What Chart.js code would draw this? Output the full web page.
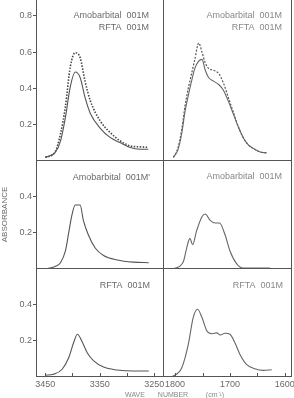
<!DOCTYPE html>
<html>
<head>
<meta charset="utf-8">
<script src="https://cdn.jsdelivr.net/npm/chart.js@4.4.1/dist/chart.umd.min.js"></script>
<style>
  body { margin: 0; background: #fff; }
  #wrap { position: relative; width: 294px; height: 398px; overflow: hidden; background: #fff; }
  canvas { position: absolute; }
</style>
</head>
<body>
<div id="wrap">
  <canvas id="c1" width="164" height="161" style="left:0;top:0"></canvas>
  <canvas id="c2" width="131" height="161" style="left:163px;top:0"></canvas>
  <canvas id="c3" width="164" height="109" style="left:0;top:160px"></canvas>
  <canvas id="c4" width="131" height="109" style="left:163px;top:160px"></canvas>
  <canvas id="c5" width="164" height="130" style="left:0;top:268px"></canvas>
  <canvas id="c6" width="194" height="130" style="left:100px;top:268px"></canvas>
</div>
<script>
// axis ticks
var nhTicks = [3450, 3400, 3350, 3300, 3250];
var nhTickLabels = [3450, 3350, 3250];
var coTicks = [1800, 1750, 1700, 1650, 1600];
var coTickLabels = [1800, 1700, 1600];
var topYTicks = [0.2, 0.4, 0.6, 0.8];
var lowYTicks = [0.2, 0.4];

// top row: both compounds together (solid + dotted)
var nhWaveMix = [3450, 3432, 3422, 3413, 3404, 3395, 3386, 3377, 3367, 3349, 3331, 3312, 3294, 3276, 3261];
var nhMixSolid = [0.02, 0.046, 0.11, 0.24, 0.41, 0.49, 0.46, 0.35, 0.26, 0.18, 0.13, 0.10, 0.074, 0.065, 0.065];
var nhMixDotted = [0.02, 0.05, 0.15, 0.30, 0.52, 0.596, 0.57, 0.44, 0.33, 0.22, 0.157, 0.11, 0.083, 0.078, 0.075];

var coWaveMix = [1803, 1795, 1788, 1782, 1776, 1770, 1764, 1757, 1751, 1745, 1739, 1730, 1720, 1712, 1703, 1694, 1685, 1676, 1667, 1655, 1645, 1633];
var coMixDotted = [0.02, 0.07, 0.17, 0.30, 0.40, 0.48, 0.56, 0.65, 0.60, 0.54, 0.51, 0.50, 0.48, 0.43, 0.35, 0.27, 0.19, 0.13, 0.09, 0.065, 0.05, 0.045];
var coMixSolid = [0.02, 0.06, 0.15, 0.27, 0.36, 0.44, 0.51, 0.55, 0.56, 0.50, 0.46, 0.44, 0.42, 0.39, 0.33, 0.26, 0.19, 0.13, 0.09, 0.065, 0.05, 0.045];

// middle row: amobarbital alone
var nhWaveAmo = [3450, 3432, 3422, 3413, 3407, 3401, 3395, 3386, 3380, 3371, 3358, 3343, 3318, 3288, 3260];
var nhAmo = [0.0, 0.014, 0.035, 0.10, 0.20, 0.30, 0.355, 0.355, 0.27, 0.19, 0.115, 0.075, 0.05, 0.038, 0.035];
var coWaveAmo = [1803, 1785, 1779, 1773, 1768, 1761, 1751, 1745, 1736, 1727, 1719, 1709, 1700, 1688, 1676, 1655, 1627];
var coAmo = [0.0, 0.04, 0.115, 0.17, 0.135, 0.21, 0.29, 0.305, 0.27, 0.255, 0.255, 0.19, 0.10, 0.03, 0.005, 0.005, 0.005];

// bottom row: RFTA alone
var nhWaveRfta = [3450, 3435, 3419, 3407, 3398, 3391, 3383, 3373, 3361, 3343, 3318, 3288, 3260];
var nhRfta = [0.01, 0.015, 0.043, 0.107, 0.19, 0.237, 0.2, 0.135, 0.09, 0.055, 0.039, 0.033, 0.033];
var coWaveRfta = [1806, 1788, 1776, 1767, 1759, 1751, 1742, 1733, 1724, 1718, 1709, 1700, 1691, 1682, 1670, 1655, 1639, 1624];
var coRfta = [0.0, 0.05, 0.18, 0.33, 0.376, 0.33, 0.255, 0.24, 0.245, 0.233, 0.243, 0.237, 0.19, 0.126, 0.07, 0.046, 0.037, 0.04];

var ink = '#555';
var textGray = '#6a6a6a';
var fontFam = '"Liberation Sans", Arial, sans-serif';

function toXY(xs, ys) {
  return xs.map(function (x, i) { return { x: x, y: ys[i] }; });
}

// draws the box around each panel + inward x tick marks
var framePlugin = {
  id: 'frame',
  afterDraw: function (chart, args, opts) {
    var ctx = chart.ctx, a = chart.chartArea;
    ctx.save();
    ctx.strokeStyle = ink;
    ctx.lineWidth = 1;
    ctx.beginPath();
    ctx.moveTo(a.left + 0.5, a.top); ctx.lineTo(a.left + 0.5, a.bottom);
    ctx.moveTo(a.right - 0.5, a.top); ctx.lineTo(a.right - 0.5, a.bottom);
    ctx.moveTo(a.left, a.bottom - 0.5); ctx.lineTo(a.right, a.bottom - 0.5);
    if (opts.top) { ctx.moveTo(a.left, a.top + 0.5); ctx.lineTo(a.right, a.top + 0.5); }
    if (opts.xTicks) {
      var xs = chart.scales.x;
      xs.ticks.forEach(function (t) {
        var px = Math.round(xs.getPixelForValue(t.value)) + 0.5;
        ctx.moveTo(px, a.bottom); ctx.lineTo(px, a.bottom - 4);
      });
    }
    ctx.stroke();
    ctx.restore();
  }
};

// sample names in the upper right corner of each panel
var labelPlugin = {
  id: 'panelLabel',
  afterDraw: function (chart, args, opts) {
    var ctx = chart.ctx, a = chart.chartArea;
    ctx.save();
    ctx.fillStyle = opts.color || textGray;
    ctx.font = '9px ' + fontFam;
    ctx.textAlign = 'right';
    ctx.textBaseline = 'middle';
    (opts.lines || []).forEach(function (l) {
      ctx.fillText(l.text, a.right - l.dx, a.top + l.dy);
    });
    (opts.caption || []).forEach(function (c) {
      ctx.font = '7px ' + fontFam;
      ctx.textAlign = 'center';
      ctx.fillText(c.text, c.x, c.y);
    });
    ctx.restore();
  }
};

function makePanel(id, cfg) {
  var datasets = cfg.series.map(function (s) {
    return {
      data: toXY(s.x, s.y),
      borderColor: s.color || ink,
      borderWidth: s.width || 1.1,
      borderDash: s.dash || [],
      pointRadius: 0,
      cubicInterpolationMode: 'monotone',
      fill: false
    };
  });
  var isLeft = cfg.side === 'left';
  var xTicks = isLeft ? nhTicks : coTicks;
  var xLabels = isLeft ? nhTickLabels : coTickLabels;
  return new Chart(document.getElementById(id), {
    type: 'line',
    data: { datasets: datasets },
    options: {
      responsive: false,
      animation: false,
      devicePixelRatio: 1,
      layout: { padding: cfg.padding || 0 },
      plugins: {
        legend: { display: false },
        tooltip: { enabled: false },
        frame: { top: cfg.top, xTicks: cfg.showX },
        panelLabel: { lines: cfg.labels, caption: cfg.caption, color: cfg.labelColor }
      },
      scales: {
        x: {
          type: 'linear',
          reverse: true,
          min: isLeft ? 3232 : 1587,
          max: isLeft ? 3467 : 1822,
          display: !!cfg.showX,
          afterBuildTicks: function (s) { s.ticks = xTicks.map(function (v) { return { value: v }; }); },
          afterFit: function (s) {
            if (!s.options.display) return;
            s.height = 21; s.paddingLeft = 0; s.paddingRight = 0;
          },
          grid: { display: false, drawTicks: false },
          border: { display: false },
          ticks: {
            autoSkip: false, maxRotation: 0, padding: 2, color: textGray,
            font: { family: fontFam, size: 9 },
            callback: function (v) { return xLabels.indexOf(v) >= 0 ? String(v) : ''; }
          }
        },
        y: {
          min: 0,
          max: cfg.yMax,
          display: isLeft,
          afterBuildTicks: function (s) { s.ticks = cfg.yTicks.map(function (v) { return { value: v }; }); },
          afterFit: function (s) {
            if (!s.options.display) return;
            s.width = 36; s.paddingTop = 0; s.paddingBottom = 0;
          },
          grid: { drawOnChartArea: false, tickLength: 3, color: ink },
          border: { display: false },
          title: {
            display: !!cfg.yTitle, text: cfg.yTitle || '', color: textGray, padding: 0,
            font: { family: fontFam, size: 8 }
          },
          ticks: {
            padding: 1, color: textGray,
            font: { family: fontFam, size: 9 },
            callback: function (v) { return v.toFixed(1); }
          }
        }
      }
    },
    plugins: [framePlugin, labelPlugin]
  });
}

makePanel('c1', {
  side: 'left', yMax: 0.887, yTicks: topYTicks, top: false,
  series: [
    { x: nhWaveMix, y: nhMixSolid },
    { x: nhWaveMix, y: nhMixDotted, dash: [1.5, 1.5], width: 1.6, color: '#444' }
  ],
  labels: [{ text: 'Amobarbital  001M', dx: 15, dy: 16 }, { text: 'RFTA  001M', dx: 15, dy: 28 }]
});
makePanel('c2', {
  side: 'right', yMax: 0.887, yTicks: topYTicks, top: false, padding: { right: 2 },
  series: [
    { x: coWaveMix, y: coMixSolid, color: '#666' },
    { x: coWaveMix, y: coMixDotted, dash: [2, 1.5], width: 1.2, color: '#555' }
  ],
  labels: [{ text: 'Amobarbital  001M', dx: 10, dy: 16 }, { text: 'RFTA  001M', dx: 10, dy: 28 }],
  labelColor: '#888'
});
makePanel('c3', {
  side: 'left', yMax: 0.605, yTicks: lowYTicks, top: true, yTitle: 'ABSORBANCE',
  series: [{ x: nhWaveAmo, y: nhAmo }],
  labels: [{ text: "Amobarbital  001M'", dx: 14, dy: 17.5 }]
});
makePanel('c4', {
  side: 'right', yMax: 0.605, yTicks: lowYTicks, top: true, padding: { right: 2 },
  series: [{ x: coWaveAmo, y: coAmo, color: '#666' }],
  labels: [{ text: 'Amobarbital  001M', dx: 10, dy: 17 }],
  labelColor: '#888'
});
makePanel('c5', {
  side: 'left', yMax: 0.605, yTicks: lowYTicks, top: true, showX: true,
  series: [{ x: nhWaveRfta, y: nhRfta }],
  labels: [{ text: 'RFTA  001M', dx: 14, dy: 18 }]
});
makePanel('c6', {
  side: 'right', yMax: 0.605, yTicks: lowYTicks, top: true, showX: true,
  padding: { left: 63, right: 2 },
  series: [{ x: coWaveRfta, y: coRfta, color: '#666' }],
  labels: [{ text: 'RFTA  001M', dx: 9, dy: 18 }],
  labelColor: '#888',
  caption: [
    { text: 'WAVE', x: 35, y: 127 },
    { text: 'NUMBER', x: 73, y: 127 },
    { text: '(cm\u207B\u00B9)', x: 115, y: 127 }
  ]
});
</script>
</body>
</html>
